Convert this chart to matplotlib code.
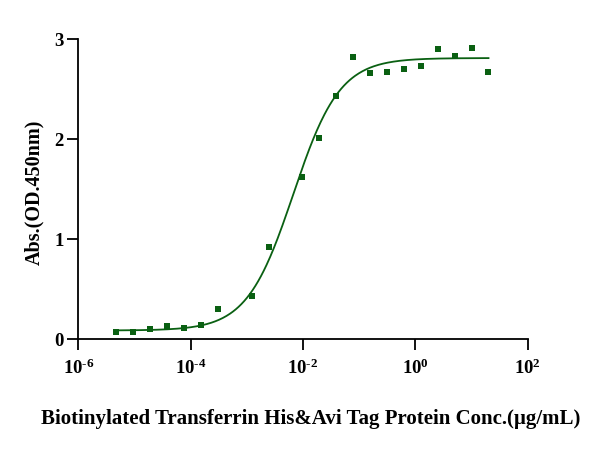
import numpy as np
import matplotlib
matplotlib.use("Agg")
import matplotlib.pyplot as plt

plt.rcParams['font.family'] = ['Liberation Serif', 'DejaVu Serif']
plt.rcParams['font.weight'] = 'bold'
plt.rcParams['mathtext.fontset'] = 'custom'
plt.rcParams['mathtext.rm'] = 'Liberation Serif:bold'
plt.rcParams['mathtext.it'] = 'Liberation Serif:bold'
plt.rcParams['mathtext.bf'] = 'Liberation Serif:bold'

# Data (µg/mL, OD450)
conc = [20, 10, 5, 2.5, 1.25, 0.625, 0.3125, 0.15625, 0.078125, 0.0390625,
        0.01953125, 0.009765625, 0.00244140625, 0.001220703125,
        0.00030517578, 0.00015258789, 7.6293945e-05, 3.8146973e-05,
        1.9073486e-05, 9.5367432e-06, 4.7683716e-06]
od450 = [2.67, 2.91, 2.83, 2.90, 2.73, 2.70, 2.67, 2.66, 2.82, 2.43,
         2.01, 1.62, 0.92, 0.43,
         0.30, 0.14, 0.107, 0.127, 0.10, 0.07, 0.073]

# 4PL fit parameters
bottom, top, ec50, hill = 0.085, 2.81, 0.0067, 1.05

xticks = [1e-6, 1e-4, 1e-2, 1e0, 1e2]
xticklabels = [r'$\mathregular{10^{\text{-}6}}$', r'$\mathregular{10^{\text{-}4}}$',
               r'$\mathregular{10^{\text{-}2}}$', r'$\mathregular{10^{0}}$',
               r'$\mathregular{10^{2}}$']
yticks = [0, 1, 2, 3]

color = '#0a6012'

fig = plt.figure(figsize=(5.93, 4.54), dpi=100)
ax = fig.add_axes([0.132, 0.2533, 0.758, 0.6607])

xs = np.logspace(np.log10(min(conc)), np.log10(max(conc)), 400)
ys = bottom + (top - bottom) / (1 + (ec50 / xs) ** hill)
ax.plot(xs, ys, color=color, lw=1.3)
ax.scatter(conc, od450, marker='s', s=25, color=color, zorder=3, linewidths=0)

ax.set_xscale('log')
ax.set_xlim(1e-6, 1e2)
ax.set_ylim(0, 3)
ax.set_xticks(xticks)
ax.set_xticklabels(xticklabels)
ax.minorticks_off()
ax.set_yticks(yticks)
ax.set_yticklabels([str(v) for v in yticks])

for s in ['top', 'right']:
    ax.spines[s].set_visible(False)
for s in ['left', 'bottom']:
    ax.spines[s].set_linewidth(1.3)
ax.tick_params(axis='both', direction='out', length=8, width=1.3,
               labelsize=13.5)
ax.tick_params(axis='x', pad=6)
ax.tick_params(axis='y', pad=2.5)
for lab in ax.get_yticklabels():
    lab.set_fontweight('bold')

ax.set_ylabel('Abs.(OD.450nm)', fontsize=14.5, fontweight='bold')
ax.yaxis.set_label_coords(-0.076, 0.49)
ax.set_xlabel('Biotinylated Transferrin His&Avi Tag Protein Conc.(µg/mL)',
              fontsize=15, fontweight='bold')
ax.xaxis.set_label_coords(0.517, -0.233)

fig.savefig('out.png', dpi=100)
